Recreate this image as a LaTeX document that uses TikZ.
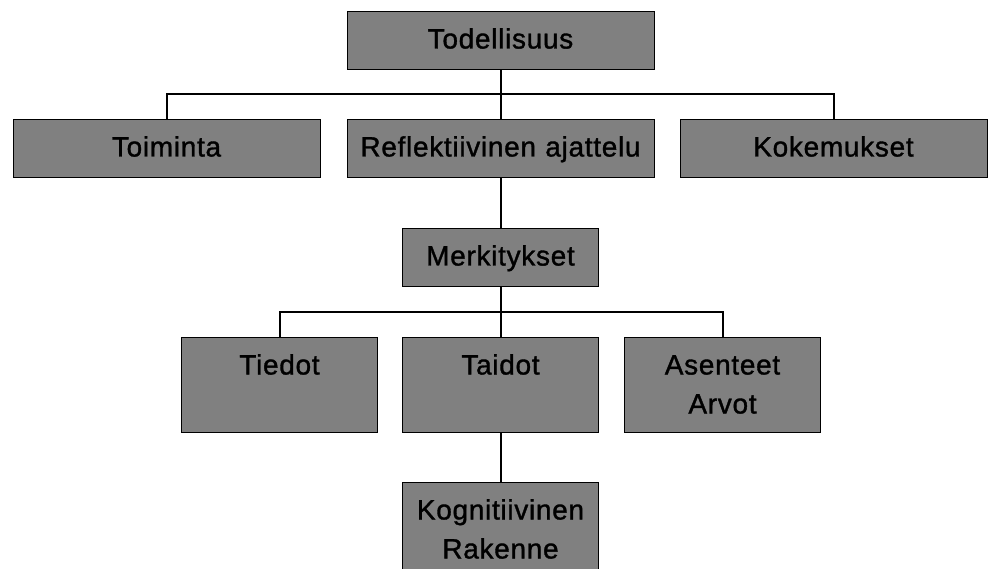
\documentclass[tikz,border=0pt]{standalone}
\usepackage{fontspec}
\newfontfamily\kirjain{Liberation Sans}[LetterSpace=2.5,FakeBold=1.2]
\usetikzlibrary{positioning,calc}
\tikzset{
  laatikko/.style={rectangle,draw=black,fill=black!50,line width=1pt,inner sep=0pt,anchor=north,align=center,
    font=\fontsize{28}{39}\kirjain,text height=37pt,text depth=21pt},
  levea/.style={laatikko,text width=307pt},
  kapea/.style={laatikko,text width=196pt},
  korkea/.style={kapea,text depth=58pt},
  viiva/.style={line width=2pt},
}
\begin{document}
\begin{tikzpicture}[x=1pt,y=-1pt]
  \useasboundingbox (0,0) rectangle (988,569);
  \node[levea] (tod) at (500.5,11) {Todellisuus};
  \node[levea] (ref) [below=49pt of tod] {Reflektiivinen ajattelu};
  \node[levea] (toi) [left=26pt of ref] {Toiminta};
  \node[levea] (kok) [right=25pt of ref] {Kokemukset};
  \node[kapea] (mer) [below=50pt of ref] {Merkitykset};
  \node[korkea] (tai) [below=50pt of mer] {Taidot};
  \node[korkea] (tie) [left=24pt of tai] {Tiedot};
  \node[korkea] (ase) [right=25pt of tai] {Asenteet\\Arvot};
  \node[kapea,text depth=80pt] (kog) [below=49pt of tai] {Kognitiivinen\\Rakenne};
  % haarat
  \coordinate (h1) at ($(tod.south)!0.5!(ref.north)$);
  \coordinate (h2) at ($(mer.south)!0.5!(tai.north)$);
  \draw[viiva] (tod) -- (ref);
  \draw[viiva] (toi.north) |- (h1) -| (kok.north);
  \draw[viiva] (ref) -- (mer);
  \draw[viiva] (mer) -- (tai);
  \draw[viiva] (tie.north) |- (h2) -| (ase.north);
  \draw[viiva] (tai) -- (kog);
\end{tikzpicture}
\end{document}
